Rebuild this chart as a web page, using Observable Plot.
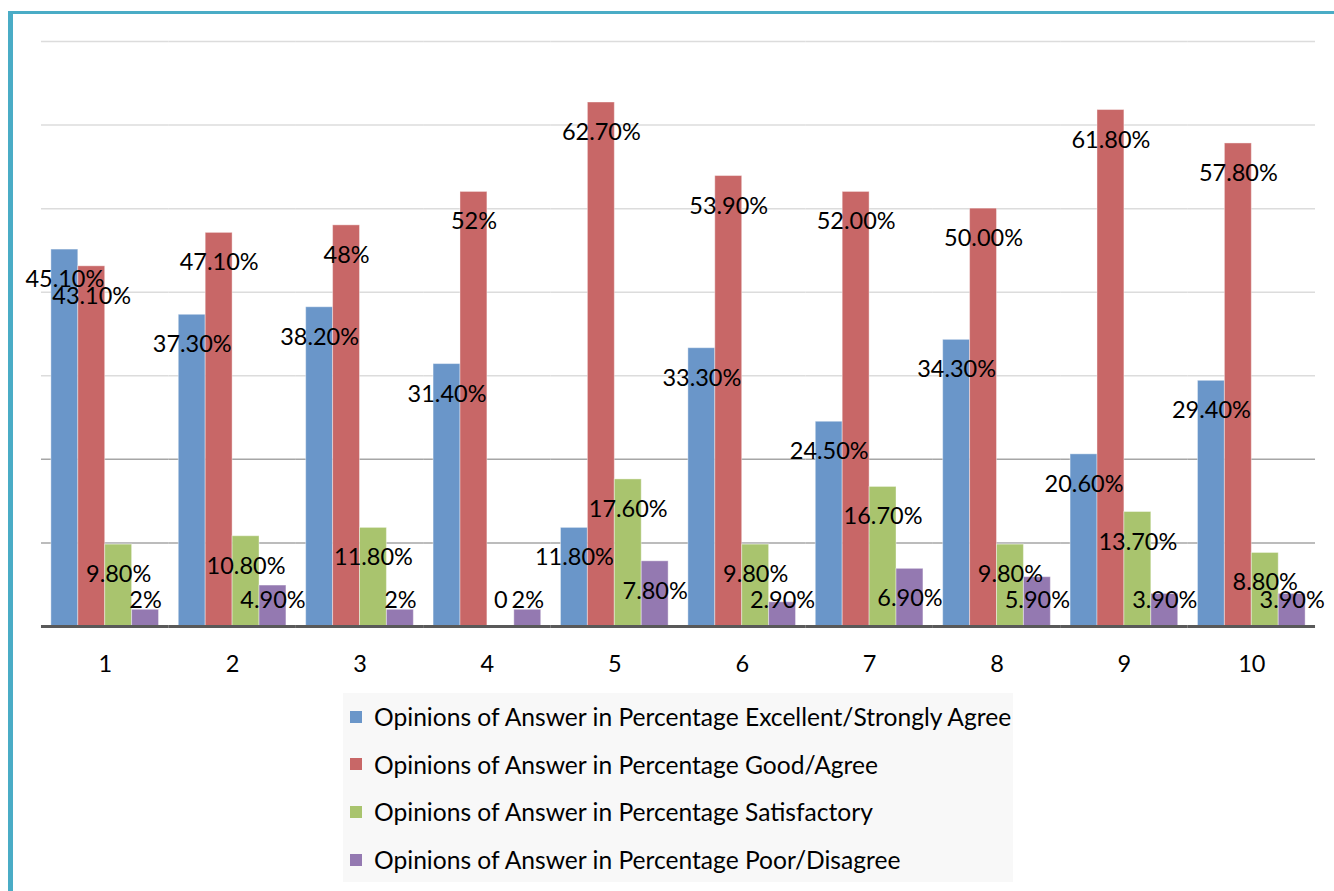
<!DOCTYPE html>
<html>
<head>
<meta charset="utf-8">
<script src="https://cdn.jsdelivr.net/npm/d3@7"></script>
<script src="https://cdn.jsdelivr.net/npm/@observablehq/plot@0.6"></script>
<style>
  html, body { margin: 0; padding: 0; background: #fff; }
  body { width: 1334px; height: 891px; position: relative; overflow: hidden; }
  #frame { position: absolute; left: 8px; top: 11px; width: 1330px; height: 890px;
           border-left: 5px solid #4aacc6; border-top: 3px solid #4aacc6; box-sizing: border-box; }
  #chart { position: absolute; left: 0; top: 0; }
  #legend { position: absolute; left: 343px; top: 693px; width: 670px; height: 189px;
            background: #f8f8f8; font-family: Lato, "Open Sans", sans-serif; font-size: 24.6px; color: #000; }
  .item { height: 47.6px; display: flex; align-items: center; padding-left: 7px; white-space: nowrap; }
  .sw { width: 12px; height: 12px; margin-right: 12px; flex: none; }
</style>
</head>
<body>
<div id="frame"></div>
<div id="chart"></div>
<div id="legend"></div>
<script>
const groups = ["1", "2", "3", "4", "5", "6", "7", "8", "9", "10"];
const seriesNames = [
  "Opinions of Answer in Percentage Excellent/Strongly Agree",
  "Opinions of Answer in Percentage Good/Agree",
  "Opinions of Answer in Percentage Satisfactory",
  "Opinions of Answer in Percentage Poor/Disagree"
];
const colors = ["#6a96c9", "#c86767", "#a9c46e", "#9479b1"];

const excellent = [45.1, 37.3, 38.2, 31.4, 11.8, 33.3, 24.5, 34.3, 20.6, 29.4];
const good = [43.1, 47.1, 48, 52, 62.7, 53.9, 52.0, 50.0, 61.8, 57.8];
const satisfactory = [9.8, 10.8, 11.8, 0, 17.6, 9.8, 16.7, 9.8, 13.7, 8.8];
const poor = [2, 4.9, 2, 2, 7.8, 2.9, 6.9, 5.9, 3.9, 3.9];

const excellentLabels = ["45.10%", "37.30%", "38.20%", "31.40%", "11.80%", "33.30%", "24.50%", "34.30%", "20.60%", "29.40%"];
const goodLabels = ["43.10%", "47.10%", "48%", "52%", "62.70%", "53.90%", "52.00%", "50.00%", "61.80%", "57.80%"];
const satisfactoryLabels = ["9.80%", "10.80%", "11.80%", "0", "17.60%", "9.80%", "16.70%", "9.80%", "13.70%", "8.80%"];
const poorLabels = ["2%", "4.90%", "2%", "2%", "7.80%", "2.90%", "6.90%", "5.90%", "3.90%", "3.90%"];

const gridDark = [10, 20];
const gridLight = [30, 40, 50, 60, 70];

const FONT = "Lato, 'Open Sans', sans-serif";

const seriesValues = [excellent, good, satisfactory, poor];
const seriesLabels = [excellentLabels, goodLabels, satisfactoryLabels, poorLabels];
const rows = [];
groups.forEach((g, i) => {
  seriesNames.forEach((s, j) => {
    rows.push({group: g, series: s, value: seriesValues[j][i], label: seriesLabels[j][i]});
  });
});

// rules are repeated per facet; extend each across the gaps between groups
const span = {insetLeft: -9.9, insetRight: -9.9};

const chart = Plot.plot({
  width: 1334,
  height: 690,
  marginLeft: 41,
  marginRight: 19,
  marginTop: 41,
  marginBottom: 64,
  style: {fontFamily: FONT, background: "transparent", overflow: "visible"},
  fx: {domain: groups, paddingInner: 0.155, paddingOuter: 0.0775, round: false, label: null},
  x: {domain: seriesNames, padding: 0, round: false, axis: null},
  y: {domain: [0, 70], axis: null},
  color: {domain: seriesNames, range: colors},
  marks: [
    Plot.ruleY(gridLight, {...span, stroke: "#dcdcdc", strokeWidth: 1.5}),
    Plot.ruleY(gridDark, {...span, stroke: "#a6a6a6", strokeWidth: 1.5}),
    Plot.barY(rows, {fx: "group", x: "series", y: "value", fill: "series", stroke: "#ffffff", strokeOpacity: 0.4, strokeWidth: 1}),
    Plot.ruleY([0], {...span, stroke: "#595959", strokeWidth: 3}),
    Plot.text(rows, {fx: "group", x: "series", y: d => Math.max(d.value, 6.7), dy: 30, text: "label", fontSize: 23.5, fill: "#000"}),
    Plot.axisFx({anchor: "bottom", tickSize: 0, tickPadding: 29, fontSize: 23.5, label: null, color: "#000"})
  ]
});
document.getElementById("chart").appendChild(chart);

const legend = document.getElementById("legend");
seriesNames.forEach((s, j) => {
  const item = document.createElement("div");
  item.className = "item";
  const sw = document.createElement("span");
  sw.className = "sw";
  sw.style.background = colors[j];
  const t = document.createElement("span");
  t.textContent = s;
  item.appendChild(sw);
  item.appendChild(t);
  legend.appendChild(item);
});
</script>
</body>
</html>
